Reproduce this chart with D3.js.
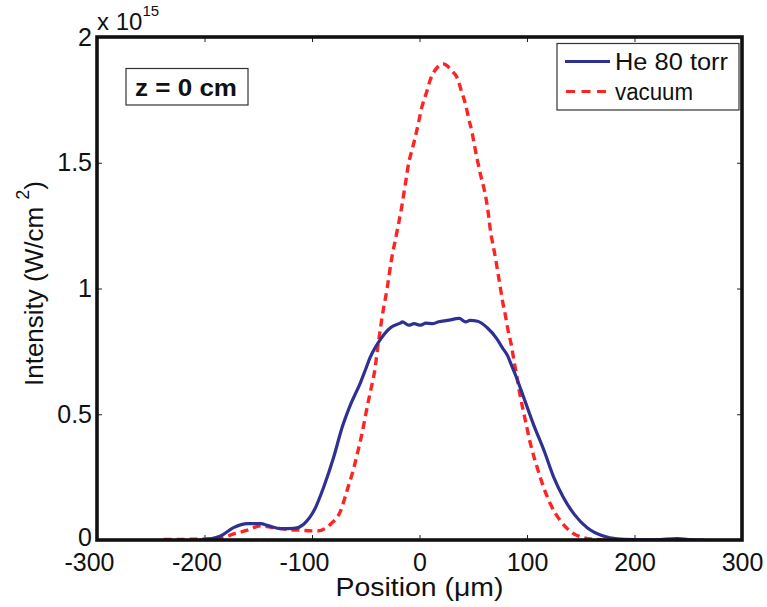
<!DOCTYPE html>
<html>
<head>
<meta charset="utf-8">
<script src="https://cdn.jsdelivr.net/npm/d3@7"></script>
<style>
  html, body { margin: 0; padding: 0; background: #fff; }
  svg { display: block; }
  text { font-family: "Liberation Sans", Arial, Helvetica, sans-serif; fill: #111; }
</style>
</head>
<body>
<svg id="chart" width="767" height="607"></svg>
<script>
// ---- data ----
const xTicks = [-300, -200, -100, 0, 100, 200, 300];
const yTicks = [0, 0.5, 1, 1.5, 2];
const yTickLabels = ["0", "0.5", "1", "1.5", "2"];

const heX = [-205, -195, -185, -173, -160, -148, -140, -129, -117, -108, -98, -89, -80, -72, -64, -55, -50, -46, -36, -27, -18, -16, -10, -5, 1, 6, 12, 18, 26, 37, 43, 47, 54, 63, 72, 77, 82, 86, 89, 97, 106, 116, 125, 134, 144, 156, 171, 184, 200, 220, 240, 250, 265];
const heY = [0, 0.004, 0.016, 0.049, 0.065, 0.065, 0.056, 0.045, 0.046, 0.062, 0.118, 0.212, 0.327, 0.447, 0.54, 0.625, 0.68, 0.725, 0.800, 0.844, 0.862, 0.867, 0.854, 0.860, 0.854, 0.862, 0.860, 0.868, 0.873, 0.881, 0.867, 0.873, 0.870, 0.844, 0.800, 0.765, 0.732, 0.69, 0.659, 0.566, 0.46, 0.354, 0.248, 0.168, 0.102, 0.049, 0.016, 0.005, 0.002, 0.001, 0.006, 0.002, 0];

const vacX = [-238, -210, -185, -173, -160, -148, -136, -123, -111, -95, -83, -73.5, -67, -61, -58, -53, -50, -45.6, -42, -38, -34.4, -30, -26.3, -21.4, -16.7, -13, -10, -6.8, -3.7, -0.6, 2.5, 6.5, 10.2, 14, 18, 22.3, 25.8, 30, 35, 39, 42.8, 45.9, 49, 51.2, 53.7, 56.7, 59.8, 62.3, 64.5, 66, 68.6, 71, 73.2, 75.3, 77.5, 80, 82.5, 85.3, 87.7, 90.2, 94, 98.6, 103.3, 109.5, 115.6, 121.9, 131.2, 142, 152.8, 165, 180];
const vacY = [0.002, 0.003, 0.007, 0.024, 0.039, 0.056, 0.049, 0.042, 0.039, 0.036, 0.062, 0.115, 0.202, 0.288, 0.34, 0.433, 0.5, 0.592, 0.665, 0.792, 0.897, 1.003, 1.109, 1.216, 1.321, 1.42, 1.5, 1.553, 1.606, 1.666, 1.726, 1.779, 1.832, 1.865, 1.885, 1.893, 1.885, 1.865, 1.838, 1.785, 1.732, 1.673, 1.619, 1.567, 1.514, 1.454, 1.401, 1.348, 1.282, 1.229, 1.169, 1.113, 1.056, 1.001, 0.944, 0.891, 0.831, 0.778, 0.718, 0.659, 0.566, 0.473, 0.381, 0.288, 0.208, 0.142, 0.076, 0.029, 0.009, 0.002, 0];

const seriesNames = ["He 80 torr", "vacuum"];
const seriesColors = ["#2e3192", "#ff2424"];

// ---- layout ----
const svg = d3.select("#chart");
const L = 97, R = 742, T = 37, B = 540;
const x = d3.scaleLinear().domain([-300, 300]).range([L, R]);
const y = d3.scaleLinear().domain([0, 2]).range([B, T]);

svg.append("rect").attr("width", 767).attr("height", 607).attr("fill", "#fff");

svg.append("defs").append("clipPath").attr("id", "plotclip")
  .append("rect").attr("x", L).attr("y", T).attr("width", R - L).attr("height", B - T);

// axes
const fs = "25px";
const gB = svg.append("g").attr("transform", `translate(0,${B})`)
  .call(d3.axisBottom(x).tickValues(xTicks).tickSize(-5).tickPadding(12).tickFormat(d => String(d)));
const gL = svg.append("g").attr("transform", `translate(${L},0)`)
  .call(d3.axisLeft(y).tickValues(yTicks).tickSize(-5).tickPadding(5).tickFormat((d, i) => yTickLabels[i]));
const gT = svg.append("g").attr("transform", `translate(0,${T})`)
  .call(d3.axisTop(x).tickValues(xTicks).tickSize(-5).tickFormat(""));
const gR = svg.append("g").attr("transform", `translate(${R},0)`)
  .call(d3.axisRight(y).tickValues(yTicks).tickSize(-5).tickFormat(""));
[gB, gL, gT, gR].forEach(g => {
  g.select(".domain").remove();
  g.selectAll(".tick line").attr("stroke", "#222").attr("stroke-width", 1);
  g.selectAll(".tick text").style("font-size", fs).style("font-family", '"Liberation Sans", Arial, sans-serif').attr("fill", "#111");
});
gB.selectAll(".tick text").attr("dy", "0.74em").attr("dx", d => d < 0 ? -8 : 0);
gL.selectAll(".tick text").filter(d => d === 0).attr("dy", "0.2em");

// lines
const mk = (xs, ys) => xs.map((v, i) => [v, ys[i]]);
const line = d3.line().x(d => x(d[0])).y(d => y(d[1])).curve(d3.curveMonotoneX);
const plot = svg.append("g").attr("clip-path", "url(#plotclip)");
plot.append("path").datum(mk(vacX, vacY)).attr("d", line)
  .attr("fill", "none").attr("stroke", seriesColors[1]).attr("stroke-width", 3.4)
  .attr("stroke-dasharray", "8,5");
plot.append("path").datum(mk(heX, heY)).attr("d", line)
  .attr("fill", "none").attr("stroke", seriesColors[0]).attr("stroke-width", 3.2)
  .attr("stroke-linejoin", "round");

// frame
svg.append("rect").attr("x", L).attr("y", T).attr("width", R - L).attr("height", B - T)
  .attr("fill", "none").attr("stroke", "#111").attr("stroke-width", 3.6);

// exponent label
const ex = svg.append("text").attr("x", 97).attr("y", 30).style("font-size", "24px");
ex.append("tspan").text("x 10");
ex.append("tspan").attr("dy", -14).style("font-size", "15px").text("15");

// axis titles
svg.append("text").attr("x", x(0)).attr("y", 596).attr("text-anchor", "middle")
  .attr("textLength", 168).attr("lengthAdjust", "spacingAndGlyphs")
  .style("font-size", "25px").text("Position (\u03bcm)");
const yl = svg.append("text").attr("transform", `translate(43,${y(1) - 5}) rotate(-90)`)
  .attr("text-anchor", "middle").style("font-size", "26px");
yl.append("tspan").text("Intensity (W/cm ");
yl.append("tspan").attr("dy", -14).style("font-size", "18px").text("2");
yl.append("tspan").attr("dy", 14).text(")");

// z = 0 cm box
svg.append("rect").attr("x", 126).attr("y", 68.5).attr("width", 122).attr("height", 36.5)
  .attr("fill", "#fff").attr("stroke", "#333").attr("stroke-width", 1.2);
svg.append("text").attr("x", 135).attr("y", 96).attr("textLength", 102).attr("lengthAdjust", "spacingAndGlyphs")
  .style("font-size", "24px").style("font-weight", "bold").text("z = 0 cm");

// legend
const lg = svg.append("g");
lg.append("rect").attr("x", 557).attr("y", 43.5).attr("width", 182).attr("height", 66.5)
  .attr("fill", "#fff").attr("stroke", "#333").attr("stroke-width", 1.2);
const legY = [61.5, 91.5];
const legLen = [113, 78];
seriesNames.forEach((n, i) => {
  const ln = lg.append("line").attr("x1", 565).attr("x2", 610).attr("y1", legY[i]).attr("y2", legY[i])
    .attr("stroke", seriesColors[i]).attr("stroke-width", 3.2);
  if (i === 1) ln.attr("stroke-dasharray", "9,6.5").attr("x1", 566);
  lg.append("text").attr("x", 615).attr("y", legY[i] + 8).style("font-size", "23px")
    .attr("textLength", legLen[i]).attr("lengthAdjust", "spacingAndGlyphs").text(n);
});
</script>
</body>
</html>
